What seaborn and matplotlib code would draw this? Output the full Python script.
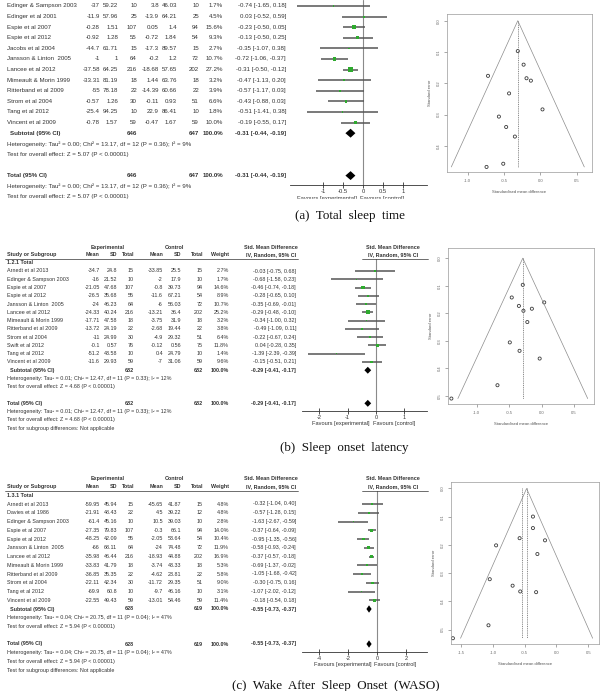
"""Forest and funnel plots for three sleep outcomes (TST, SOL, WASO).

Run:
    python plot.py
"""

import matplotlib

matplotlib.use("Agg")
import matplotlib.pyplot as plt
import matplotlib.transforms as mtransforms
import numpy as np
import seaborn as sns
from matplotlib import font_manager
from matplotlib.patches import Rectangle


W, H = 601, 691

COLORS = {
    "ink": "#333333",
    "zero": "#8a8a8a",
    "ci": "#555555",
    "green": "#2eaa2e",
    "diamond": "#000000",
    "funnel": "#8c8c8c",
    "point": "#3a3a3a",
    "tick": "#666666",
}

# ---------------------------------------------------------------- (a) Total sleep time
TST_STUDIES = [
    "Edinger & Sampson 2003", "Edinger et al 2001", "Espie et al 2007", "Espie et al 2012",
    "Jacobs et al 2004", "Jansson & Linton  2005", "Lancee et al 2012", "Mimeault & Morin 1999",
    "Ritterband et al 2009", "Strom et al 2004", "Tang et al 2012", "Vincent et al 2009",
]
TST_EXP_MEAN = [-37, -11.9, -0.28, -0.92, -44.7, -1, -37.58, -33.31, -55, -0.57, -25.4, -0.78]
TST_EXP_SD = [59.22, 57.96, 1.51, 1.28, 61.71, 1, 64.25, 81.19, 78.18, 1.26, 94.25, 1.57]
TST_EXP_N = [10, 25, 107, 55, 15, 64, 216, 18, 22, 30, 10, 59]
TST_CTL_MEAN = [3.8, -13.9, 0.05, -0.72, -17.3, -0.2, -18.68, 1.44, -14.39, -0.11, 22.9, -0.47]
TST_CTL_SD = [46.03, 64.21, 1.4, 1.84, 89.57, 1.2, 57.65, 63.76, 60.66, 0.93, 86.41, 1.67]
TST_CTL_N = [10, 25, 94, 54, 15, 72, 202, 18, 22, 51, 10, 59]
TST_WEIGHT = [1.7, 4.5, 15.6, 9.3, 2.7, 10.7, 27.2, 3.2, 3.9, 6.6, 1.8, 10.0]
TST_SMD = [-0.74, 0.03, -0.23, -0.13, -0.35, -0.72, -0.31, -0.47, -0.57, -0.43, -0.51, -0.19]
TST_LO = [-1.65, -0.52, -0.50, -0.50, -1.07, -1.06, -0.50, -1.13, -1.17, -0.88, -1.41, -0.55]
TST_HI = [0.18, 0.59, 0.05, 0.25, 0.38, -0.37, -0.12, 0.20, 0.03, 0.03, 0.38, 0.17]
TST_POOLED = [646, 647, -0.31, -0.44, -0.19]
TST_HET = "Heterogeneity: Tau\u00b2 = 0.00; Chi\u00b2 = 13.17, df = 12 (P = 0.36); I\u00b2 = 9%"
TST_Z = "Test for overall effect: Z = 5.07 (P < 0.00001)"

# ---------------------------------------------------------------- (b) Sleep onset latency
SOL_STUDIES = [
    "Arnedt et al 2013", "Edinger & Sampson 2003", "Espie et al 2007", "Espie et al 2012",
    "Jansson & Linton  2005", "Lancee et al 2012", "Mimeault & Morin 1999", "Ritterband et al 2009",
    "Strom et al 2004", "Swift et al 2012", "Tang et al 2012", "Vincent et al 2009",
]
SOL_EXP_MEAN = [-34.7, -16, -21.05, -26.5, -24, -24.33, -17.71, -13.72, -11, -0.1, -51.2, -11.6]
SOL_EXP_SD = [24.8, 21.52, 47.68, 35.68, 46.23, 40.24, 47.58, 24.19, 24.99, 0.57, 43.58, 29.93]
SOL_EXP_N = [15, 10, 107, 55, 64, 216, 18, 22, 30, 76, 10, 59]
SOL_CTL_MEAN = [-33.85, -2, -0.8, -11.6, -6, -13.21, -3.75, -2.68, -4.9, -0.12, 0.4, -7]
SOL_CTL_SD = [25.5, 17.9, 39.73, 67.21, 56.03, 36.4, 31.9, 19.44, 29.32, 0.56, 24.79, 31.06]
SOL_CTL_N = [15, 10, 94, 54, 72, 202, 18, 22, 51, 75, 10, 59]
SOL_WEIGHT = [2.7, 1.7, 14.6, 8.9, 10.7, 25.2, 3.2, 3.8, 6.4, 11.8, 1.4, 9.6]
SOL_SMD = [-0.03, -0.68, -0.46, -0.28, -0.35, -0.29, -0.34, -0.49, -0.22, 0.04, -1.39, -0.15]
SOL_LO = [-0.75, -1.58, -0.74, -0.65, -0.69, -0.48, -1.00, -1.09, -0.67, -0.28, -2.39, -0.51]
SOL_HI = [0.68, 0.23, -0.18, 0.10, -0.01, -0.10, 0.32, 0.11, 0.24, 0.35, -0.39, 0.21]
SOL_POOLED = [682, 682, -0.29, -0.41, -0.17]
SOL_HET = "Heterogeneity: Tau\u00b2 = 0.01; Chi\u00b2 = 12.47, df = 11 (P = 0.33); I\u00b2 = 12%"
SOL_Z = "Test for overall effect: Z = 4.68 (P < 0.00001)"

# ---------------------------------------------------------------- (c) WASO
WASO_STUDIES = [
    "Arnedt et al 2013", "Davies et al 1986", "Edinger & Sampson 2003", "Espie et al 2007",
    "Espie et al 2012", "Jansson & Linton  2005", "Lancee et al 2012", "Mimeault & Morin 1999",
    "Ritterband et al 2009", "Strom et al 2004", "Tang et al 2012", "Vincent et al 2009",
]
WASO_EXP_MEAN = [-59.95, -21.91, -61.4, -27.35, -48.25, -66, -35.98, -33.83, -36.85, -22.11, -69.9, -22.55]
WASO_EXP_SD = [45.94, 48.43, 45.16, 79.83, 42.09, 68.11, 46.44, 41.79, 35.35, 42.34, 60.8, 49.43]
WASO_EXP_N = [15, 22, 10, 107, 55, 64, 216, 18, 22, 30, 10, 59]
WASO_CTL_MEAN = [-45.65, 4.5, 10.5, -0.3, -2.05, -24, -18.93, -3.74, -4.62, -11.72, -9.7, -13.01]
WASO_CTL_SD = [41.87, 39.22, 39.03, 66.1, 53.64, 74.48, 44.88, 43.33, 23.81, 29.35, 46.16, 54.46]
WASO_CTL_N = [15, 12, 10, 94, 54, 72, 202, 18, 22, 51, 10, 59]
WASO_WEIGHT = [4.8, 4.8, 2.8, 14.0, 10.4, 11.9, 16.9, 5.3, 5.8, 9.0, 3.1, 11.4]
WASO_SMD = [-0.32, -0.57, -1.63, -0.37, -0.95, -0.58, -0.37, -0.69, -1.05, -0.30, -1.07, -0.18]
WASO_LO = [-1.04, -1.28, -2.67, -0.64, -1.35, -0.93, -0.57, -1.37, -1.68, -0.75, -2.02, -0.54]
WASO_HI = [0.40, 0.15, -0.59, -0.09, -0.56, -0.24, -0.18, -0.02, -0.42, 0.16, -0.12, 0.18]
WASO_POOLED = [628, 619, -0.55, -0.73, -0.37]
WASO_FIXED = -0.47
WASO_HET = "Heterogeneity: Tau\u00b2 = 0.04; Chi\u00b2 = 20.75, df = 11 (P = 0.04); I\u00b2 = 47%"
WASO_Z = "Test for overall effect: Z = 5.94 (P < 0.00001)"

CAPTIONS = ["(a)  Total  sleep  time", "(b)  Sleep  onset  latency", "(c)  Wake  After  Sleep  Onset  (WASO)"]

# layout, in pixels of the 601x691 canvas
FOREST_A = dict(first=6, step=10.6, top_row=-0.566, left=290, right=427, zero=363, unit=40.0,
                ticks=[-1, -0.5, 0, 0.5, 1], font=5.3, tick_font=5.0, sq=0.45,
                cols=[100, 118, 137, 159, 177, 199, 223, 286], header=None, subgroup=False)
FOREST_B = dict(first=271, step=8.27, top_row=-1.5, left=302, right=427, zero=376, unit=28.3,
                ticks=[-2, -1, 0, 1], font=4.6, tick_font=4.8, sq=0.35,
                cols=[100, 117, 134, 163, 181, 203, 229, 296], header="1.2.1 Total", subgroup=True)
FOREST_C = dict(first=504, step=8.75, top_row=-1.5, left=302, right=427, zero=377, unit=14.5,
                ticks=[-4, -2, 0, 2], font=4.6, tick_font=4.8, sq=0.35,
                cols=[100, 117, 134, 163, 181, 203, 229, 296], header="1.3.1 Total", subgroup=True)
HEAD_X = (108, 174, 271, 393)

FUNNEL_A = dict(box=(447, 14, 592, 172), xlim=(-1.284, 0.711), ylim=(0.483, -0.0214),
                xticks=[-1.0, -0.5, 0.0, 0.5], yticks=[0.0, 0.1, 0.2, 0.3, 0.4])
FUNNEL_B = dict(box=(448, 248, 594, 404), xlim=(-1.442, 0.807), ylim=(0.530, -0.037),
                xticks=[-1.0, -0.5, 0.0, 0.5], yticks=[0.0, 0.1, 0.2, 0.3, 0.4, 0.5])
FUNNEL_C = dict(box=(451, 482, 599, 644), xlim=(-1.66, 0.67), ylim=(0.551, -0.023),
                xticks=[-1.5, -1.0, -0.5, 0.0, 0.5], yticks=[0.0, 0.1, 0.2, 0.3, 0.4, 0.5])


def px_axes(fig, left, top, right, bottom):
    return fig.add_axes([left / W, 1 - bottom / H, (right - left) / W, (bottom - top) / H])


def fmt_num(v):
    return f"{v:g}"


def draw_forest(fig, lay, studies, exp_mean, exp_sd, exp_n, ctl_mean, ctl_sd, ctl_n,
                weight, smd, lo, hi, pooled, het, zstat):
    n = len(studies)
    first, step = lay["first"], lay["step"]
    axis_row = n + 4.9
    top_px = first + lay["top_row"] * step
    bottom_px = first + axis_row * step
    ax = px_axes(fig, lay["left"], top_px, lay["right"], bottom_px)
    blend = mtransforms.blended_transform_factory(fig.transFigure, ax.transData)
    fs = lay["font"] * FONT_SCALE
    cols = lay["cols"]

    def put(x_px, row, s, ha="right", bold=False):
        ax.text(x_px / W, row, s, transform=blend, ha=ha, va="center", fontsize=fs,
                fontweight="bold" if bold else "normal", color=COLORS["ink"])

    rows = np.arange(n)
    for i in rows:
        put(7, i, studies[i], ha="left")
        values = [exp_mean[i], exp_sd[i], exp_n[i], ctl_mean[i], ctl_sd[i], ctl_n[i]]
        for c, v in zip(cols[:6], values):
            put(c, i, fmt_num(v))
        put(cols[6], i, f"{weight[i]:.1f}%")
        put(cols[7], i, f"{smd[i]:.2f} [{lo[i]:.2f}, {hi[i]:.2f}]")

    n_exp, n_ctl, p_est, p_lo, p_hi = pooled
    for row, label, indent in ((n, "Subtotal (95% CI)", 3), (n + 4, "Total (95% CI)", 0)):
        put(7 + indent, row, label, ha="left", bold=True)
        put(cols[2], row, f"{n_exp}", bold=True)
        put(cols[5], row, f"{n_ctl}", bold=True)
        put(cols[6], row, "100.0%", bold=True)
        put(cols[7], row, f"{p_est:.2f} [{p_lo:.2f}, {p_hi:.2f}]", bold=True)
        ax.fill([p_lo, p_est, p_hi, p_est], [row, row - 0.42, row, row + 0.42],
                color=COLORS["diamond"], lw=0, zorder=4)
    for row in (n + 1, n + 5):
        put(7, row, het, ha="left")
    for row in (n + 2, n + 6):
        put(7, row, zstat, ha="left")
    if lay["subgroup"]:
        put(7, n + 7, "Test for subgroup differences: Not applicable", ha="left")

    if lay["header"]:
        h1, h2, ul = -2.9, -2.0, -1.5
        put(HEAD_X[0], h1, "Experimental", ha="center", bold=True)
        put(HEAD_X[1], h1, "Control", ha="center", bold=True)
        put(HEAD_X[2], h1, "Std. Mean Difference", ha="center", bold=True)
        put(HEAD_X[3], h1, "Std. Mean Difference", ha="center", bold=True)
        put(7, h2, "Study or Subgroup", ha="left", bold=True)
        for c, label in zip(cols[:7], ["Mean", "SD", "Total", "Mean", "SD", "Total", "Weight"]):
            put(c, h2, label, bold=True)
        put(HEAD_X[2], h2, "IV, Random, 95% CI", ha="center", bold=True)
        put(HEAD_X[3], h2, "IV, Random, 95% CI", ha="center", bold=True)
        for x0, x1 in ((5, cols[7] + 2), (362, 428)):
            ax.plot([x0 / W, x1 / W], [ul, ul], transform=blend, color=COLORS["ink"],
                    lw=0.5, clip_on=False)
        put(7, -1.0, lay["header"], ha="left", bold=True)

    # confidence intervals, weighted squares, zero line
    ax.hlines(rows, lo, hi, color=COLORS["ci"], lw=1.1, zorder=2)
    sns.scatterplot(x=smd, y=rows, s=np.asarray(weight) * lay["sq"], marker="s",
                    color=COLORS["green"], linewidth=0, ax=ax, legend=False, zorder=3)
    ax.axvline(0, color=COLORS["zero"], lw=0.8, zorder=1)

    ax.set_xlim((lay["left"] - lay["zero"]) / lay["unit"], (lay["right"] - lay["zero"]) / lay["unit"])
    ax.set_ylim(axis_row, lay["top_row"])
    ax.set_facecolor("none")
    for side in ("top", "left", "right"):
        ax.spines[side].set_visible(False)
    ax.spines["bottom"].set_color(COLORS["ink"])
    ax.spines["bottom"].set_linewidth(0.6)
    ax.set_yticks([])
    ax.set_xticks(lay["ticks"])
    ax.set_xticklabels([fmt_num(t) for t in lay["ticks"]])
    ax.tick_params(axis="x", bottom=True, direction="inout", length=4, width=0.6,
                   labelsize=lay["tick_font"] * FONT_SCALE, pad=1.0, colors=COLORS["ink"])
    ax.set_xlabel("")
    ax.set_ylabel("")

    fav_row = axis_row + 13.0 / step
    zero_fig = lay["zero"] / W
    tf = lay["tick_font"] * FONT_SCALE
    ax.text(zero_fig - 6 / W, fav_row, "Favours [experimental]", transform=blend, ha="right",
            va="center", fontsize=tf, color=COLORS["ink"])
    ax.text(zero_fig - 3 / W, fav_row, "Favours [control]", transform=blend, ha="left",
            va="center", fontsize=tf, color=COLORS["ink"])
    return ax


def draw_funnel(fig, lay, smd, lo, hi, center, ref_lines):
    se = (np.asarray(hi) - np.asarray(lo)) / (2 * 1.96)
    ax = px_axes(fig, *lay["box"])
    top = se.max()
    ax.plot([center - 1.96 * top, center, center + 1.96 * top], [top, 0, top],
            color=COLORS["funnel"], lw=0.5)
    for v in ref_lines:
        ax.plot([v, v], [0, top], color="#777777", lw=0.6, ls=(0, (1.2, 1.0)))
    sns.scatterplot(x=smd, y=se, ax=ax, marker="o", s=5, facecolor="none",
                    edgecolor=COLORS["point"], linewidth=0.6, legend=False)
    ax.set_xlim(lay["xlim"])
    ax.set_ylim(lay["ylim"])
    ax.set_xticks(lay["xticks"])
    ax.set_xticklabels([f"{t:.1f}" for t in lay["xticks"]])
    ax.set_yticks(lay["yticks"])
    ax.set_yticklabels([f"{t:.1f}" for t in lay["yticks"]], rotation=90, va="center")
    ax.tick_params(bottom=True, left=True, direction="out", length=2.2, width=0.4, pad=2.5,
                   labelsize=3.0, colors=COLORS["tick"])
    ax.set_xlabel("Standardised mean difference", fontsize=3.0, color="#555555", labelpad=5.5)
    ax.set_ylabel("Standard error", fontsize=3.0, color="#555555", labelpad=3.0)
    for spine in ax.spines.values():
        spine.set_color("#9a9a9a")
        spine.set_linewidth(0.5)
    return ax


def main() -> None:
    global FONT_SCALE
    sns.set_theme(style="white")
    available = {f.name for f in font_manager.fontManager.ttflist}
    family = "Liberation Sans Narrow" if "Liberation Sans Narrow" in available else "Liberation Sans"
    FONT_SCALE = 1.0 if family.endswith("Narrow") else 0.84
    plt.rcParams["font.family"] = [family, "DejaVu Sans"]

    fig = plt.figure(figsize=(W / 100, H / 100), dpi=100)
    fig.patch.set_facecolor("white")

    draw_forest(fig, FOREST_A, TST_STUDIES, TST_EXP_MEAN, TST_EXP_SD, TST_EXP_N, TST_CTL_MEAN,
                TST_CTL_SD, TST_CTL_N, TST_WEIGHT, TST_SMD, TST_LO, TST_HI, TST_POOLED,
                TST_HET, TST_Z)
    draw_forest(fig, FOREST_B, SOL_STUDIES, SOL_EXP_MEAN, SOL_EXP_SD, SOL_EXP_N, SOL_CTL_MEAN,
                SOL_CTL_SD, SOL_CTL_N, SOL_WEIGHT, SOL_SMD, SOL_LO, SOL_HI, SOL_POOLED,
                SOL_HET, SOL_Z)
    draw_forest(fig, FOREST_C, WASO_STUDIES, WASO_EXP_MEAN, WASO_EXP_SD, WASO_EXP_N,
                WASO_CTL_MEAN, WASO_CTL_SD, WASO_CTL_N, WASO_WEIGHT, WASO_SMD, WASO_LO,
                WASO_HI, WASO_POOLED, WASO_HET, WASO_Z)

    # panel (a) of the source figure is cropped just below its axis
    fig.add_artist(Rectangle((0, 1 - 207 / H), 432 / W, 8 / H, transform=fig.transFigure,
                             color="white", zorder=20))

    draw_funnel(fig, FUNNEL_A, TST_SMD, TST_LO, TST_HI, TST_POOLED[2], [TST_POOLED[2]])
    draw_funnel(fig, FUNNEL_B, SOL_SMD, SOL_LO, SOL_HI, SOL_POOLED[2], [SOL_POOLED[2]])
    draw_funnel(fig, FUNNEL_C, WASO_SMD, WASO_LO, WASO_HI, WASO_FIXED,
                [WASO_POOLED[2], WASO_FIXED])

    serif = ["Liberation Serif", "DejaVu Serif"]
    for text, (x, y) in zip(CAPTIONS, [(350, 216), (344, 448), (336, 686)]):
        fig.text(x / W, 1 - y / H, text, ha="center", va="center", fontsize=9.4,
                 family=serif, color="#111111")

    fig.savefig("out.png", dpi=100, facecolor="white")
    plt.close(fig)


if __name__ == "__main__":
    main()
